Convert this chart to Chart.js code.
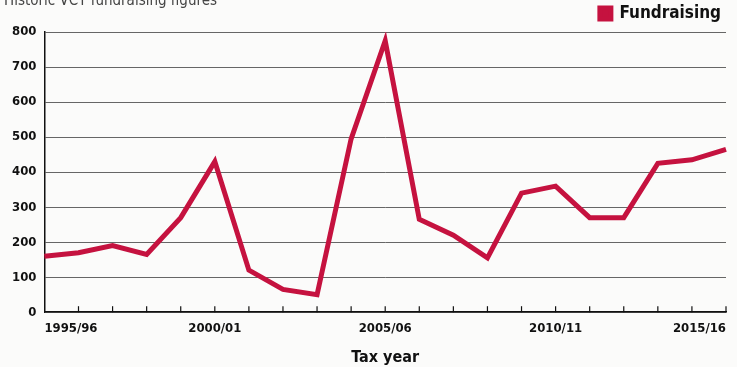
<!DOCTYPE html>
<html>
<head>
<meta charset="utf-8">
<script src="https://cdn.jsdelivr.net/npm/chart.js@4/dist/chart.umd.min.js"></script>
<style>
  body { margin: 0; background: #fbfbfa; }
  #wrap { position: relative; width: 737px; height: 367px; overflow: hidden; }
  #heading {
    position: absolute; left: 4px; top: -9px;
    font: 15px "DejaVu Sans Condensed", "Liberation Sans Narrow", sans-serif;
    color: #444;
  }
</style>
</head>
<body>
<div id="wrap">
  <div id="heading">Historic VCT fundraising figures</div>
  <canvas id="fundChart" width="737" height="367"></canvas>
</div>
<script>
// tax years shown along the bottom
const taxYears = [
  "1995/96", "1996/97", "1997/98", "1998/99", "1999/00",
  "2000/01", "2001/02", "2002/03", "2003/04", "2004/05",
  "2005/06", "2006/07", "2007/08", "2008/09", "2009/10",
  "2010/11", "2011/12", "2012/13", "2013/14", "2014/15",
  "2015/16"
];
// fundraising values
const fundraising = [
  160, 170, 190, 165, 270,
  430, 120, 65, 50, 495,
  775, 265, 220, 155, 340,
  360, 270, 270, 425, 435,
  465
];
const shownYears = ["1995/96", "2000/01", "2005/06", "2010/11", "2015/16"];

const condensed = '"DejaVu Sans Condensed", "Liberation Sans Narrow", sans-serif';

// small tick marks pointing up from the x axis
const innerTicks = {
  id: "innerTicks",
  afterDraw(chart) {
    const x = chart.scales.x;
    const ctx = chart.ctx;
    const base = chart.chartArea.bottom;
    ctx.save();
    ctx.strokeStyle = "#111";
    ctx.lineWidth = 1.2;
    x.ticks.forEach((t, i) => {
      if (i === 0) return;
      const px = x.getPixelForTick(i);
      ctx.beginPath();
      ctx.moveTo(px, base);
      ctx.lineTo(px, base - 6);
      ctx.stroke();
    });
    ctx.restore();
  }
};

new Chart(document.getElementById("fundChart"), {
  type: "line",
  data: {
    labels: taxYears,
    datasets: [{
      label: "Fundraising",
      data: fundraising,
      borderColor: "#c5123f",
      backgroundColor: "#c5123f",
      borderWidth: 5,
      pointRadius: 0,
      tension: 0,
      borderJoinStyle: "miter"
    }]
  },
  options: {
    responsive: false,
    animation: false,
    layout: { padding: { left: 4, right: 11, top: 0, bottom: 0 } },
    plugins: {
      legend: {
        position: "top",
        align: "end",
        labels: {
          boxWidth: 11,
          boxHeight: 11,
          color: "#111",
          padding: 5,
          font: { family: condensed, size: 17, weight: "bold" }
        }
      },
      tooltip: { enabled: false }
    },
    scales: {
      x: {
        offset: false,
        grid: { display: false, drawTicks: false },
        border: { color: "#111", width: 1.5 },
        ticks: {
          autoSkip: false,
          maxRotation: 0,
          align: "inner",
          padding: 9,
          color: "#111",
          font: { family: condensed, size: 13, weight: "bold" },
          callback: (v, i) => shownYears.includes(taxYears[i]) ? taxYears[i] : ""
        },
        title: {
          display: true,
          text: "Tax year",
          color: "#111",
          padding: { top: 2, bottom: 0 },
          font: { family: condensed, size: 16, weight: "bold" }
        }
      },
      y: {
        min: 0,
        max: 800,
        grid: { color: "#666", lineWidth: 1, drawTicks: false },
        border: { color: "#111", width: 1.5 },
        ticks: {
          stepSize: 100,
          padding: 8,
          color: "#111",
          font: { family: condensed, size: 13, weight: "bold" }
        }
      }
    }
  },
  plugins: [innerTicks]
});
</script>
</body>
</html>
